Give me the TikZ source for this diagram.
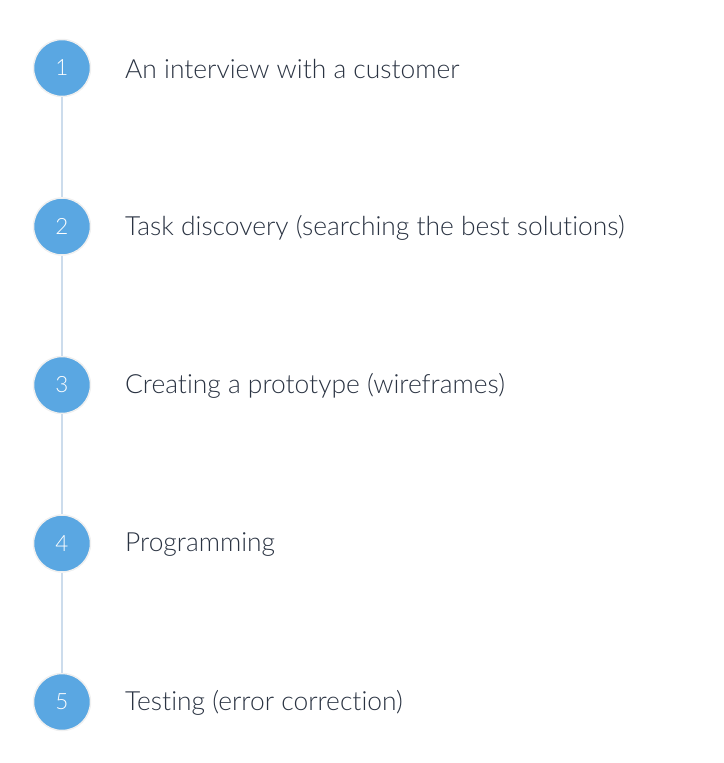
\documentclass[tikz,border=0pt]{standalone}
\usepackage{fontspec}
\setmainfont{Lato}[UprightFont=* Light, Ligatures=NoCommon]
\usepackage{tikz}
\usetikzlibrary{positioning}
\definecolor{stepblue}{HTML}{5AA7E2}
\definecolor{stepline}{HTML}{CCDCEC}
\definecolor{steptext}{HTML}{2A3342}
\tikzset{
    stepnum/.style={circle, fill=stepblue, minimum size=57bp, inner sep=0pt,
        text=white, font=\fontsize{22.5}{22}\selectfont,
        draw=black!6, line width=1.5pt},
    steplabel/.style={anchor=west, text=steptext, inner sep=0pt,
        font=\fontsize{26.5}{28}\selectfont},
}

\begin{document}
\begin{tikzpicture}[x=1bp,y=-1bp]
    \useasboundingbox (0,0) rectangle (724,763);
    \foreach \n/\txt in {1/An interview with a customer,
                         2/Task discovery (searching the best solutions),
                         3/Creating a prototype (wireframes),
                         4/Programming,
                         5/Testing (error correction)} {
        \node[stepnum] (c\n) at (62, {68+158.5*(\n-1)}) {\n};
        \node[steplabel] (t\n) at (125, {69+158.5*(\n-1)}) {\txt};
    }
    \foreach \a/\b in {1/2,2/3,3/4,4/5}
        \draw[stepline, line width=1.2bp] (c\a) -- (c\b);
\end{tikzpicture}
\end{document}
